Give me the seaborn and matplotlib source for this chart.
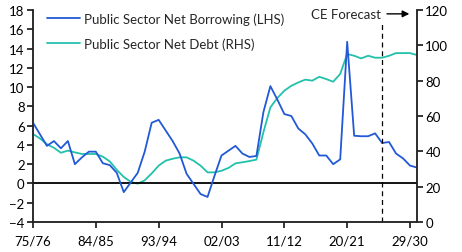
import matplotlib
matplotlib.use("Agg")
import matplotlib.pyplot as plt
import seaborn as sns
import pandas as pd
from matplotlib.lines import Line2D

# fiscal years (start year), 1975/76 .. 2030/31
years = list(range(1975, 2031))

# Public Sector Net Borrowing, % GDP (LHS)
psnb = [6.3, 5.1, 3.9, 4.4, 3.65, 4.4, 2.0, 2.7, 3.3, 3.3, 2.1, 1.9,
        1.1, -0.9, 0.1, 1.1, 3.3, 6.3, 6.6, 5.5, 4.4, 3.1, 1.0, -0.05,
        -1.1, -1.4, 0.8, 2.9, 3.4, 3.9, 3.1, 2.75, 2.85, 7.4, 10.1, 8.7,
        7.2, 7.0, 5.7, 5.1, 4.15, 2.9, 2.9, 2.0, 2.5, 14.7, 4.95, 4.9,
        4.9, 5.2, 4.2, 4.3, 3.1, 2.6, 1.85, 1.65]

# Public Sector Net Debt, % GDP (RHS)
psnd = [49.8, 47.3, 44.0, 42.0, 39.2, 40.4, 39.4, 38.5, 38.5, 38.5, 37.0, 34.3,
        29.5, 25.5, 22.7, 21.7, 23.6, 27.5, 31.9, 34.7, 35.8, 36.6, 36.6, 34.7,
        31.9, 28.1, 28.1, 29.0, 30.6, 33.2, 33.8, 34.5, 35.3, 50.8, 64.9, 70.2,
        74.3, 77.1, 79.0, 80.6, 80.0, 82.2, 80.9, 79.4, 83.8, 95.1, 94.1, 92.6,
        94.1, 93.0, 93.0, 94.1, 95.6, 95.6, 95.6, 94.5]

tick_years = [1975, 1984, 1993, 2002, 2011, 2020, 2029]
tick_labels = ["75/76", "84/85", "93/94", "02/03", "11/12", "20/21", "29/30"]
forecast_start = 2025

df = pd.DataFrame({"year": years, "psnb": psnb, "psnd": psnd})

sns.set_style("ticks")
plt.rcParams["font.family"] = ["Lato", "DejaVu Sans"]
fs = 9.5

blue = "#2159d6"
teal = "#22c1aa"

fig = plt.figure(figsize=(4.62, 2.53), dpi=100)
ax = fig.add_axes([0.0714, 0.1186, 0.8312, 0.8379])
ax2 = ax.twinx()

sns.lineplot(data=df, x="year", y="psnd", ax=ax2, color=teal, linewidth=1.3, legend=False)
sns.lineplot(data=df, x="year", y="psnb", ax=ax, color=blue, linewidth=1.3, legend=False)
ax.set_zorder(ax2.get_zorder() + 1)
ax.patch.set_visible(False)

ax.axhline(0, color="black", linewidth=1.3, zorder=1)
ax.axvline(forecast_start, color="black", linewidth=0.9, linestyle=(0, (4, 3)), ymax=0.94)

ax.set_xlim(1975, 2030)
ax.set_ylim(-4, 18)
ax.set_yticks(range(-4, 19, 2))
ax2.set_ylim(0, 120)
ax2.set_yticks(range(0, 121, 20))
ax.set_xticks(tick_years)
ax.set_xticklabels(tick_labels)
ax.set_xlabel("")
ax.set_ylabel("")
ax2.set_ylabel("")

for a in (ax, ax2):
    a.spines["top"].set_visible(False)
    for s in a.spines.values():
        s.set_linewidth(1.1)
    a.tick_params(width=1.1, length=4, labelsize=fs, pad=2, colors="black")
ax.tick_params(axis="x", pad=5)
ax2.spines["right"].set_visible(True)

ax.annotate("", xy=(2029.3, 17.6), xytext=(2025.3, 17.6),
            arrowprops=dict(arrowstyle="-|>", color="black", lw=1.0, mutation_scale=10))
ax.text(2024.9, 17.6, "CE Forecast", ha="right", va="center", fontsize=fs)

handles = [Line2D([], [], color=blue, linewidth=1.3),
           Line2D([], [], color=teal, linewidth=1.3)]
ax.legend(handles, ["Public Sector Net Borrowing (LHS)", "Public Sector Net Debt (RHS)"],
          loc="upper left", frameon=False, fontsize=fs, handlelength=2.5,
          handletextpad=0.3, labelspacing=0.95, borderaxespad=0.1,
          bbox_to_anchor=(0.02, 1.02))

fig.savefig("out.png", dpi=100)
